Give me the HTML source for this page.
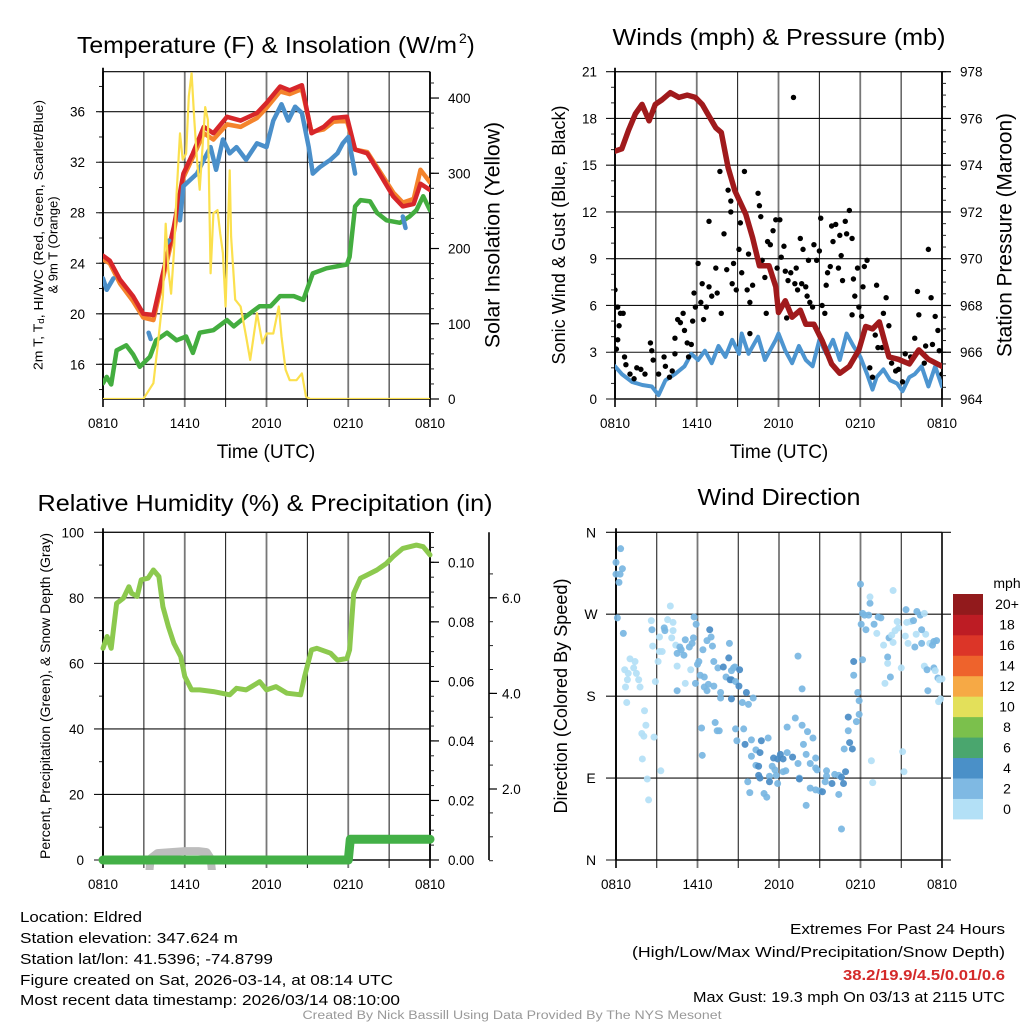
<!DOCTYPE html>
<html><head><meta charset="utf-8"><title>Eldred Meteogram</title>
<style>
html,body{margin:0;padding:0;background:#fff;}
svg{display:block;font-family:"Liberation Sans",sans-serif;}
</style></head>
<body>
<svg id="fig" xmlns="http://www.w3.org/2000/svg" width="1024" height="1024" viewBox="0 0 1024 1024">
<rect x="0" y="0" width="1024" height="1024" fill="#fff"/>
<defs>
<clipPath id="c1"><rect x="103" y="71.7" width="327" height="327.3"/></clipPath>
<clipPath id="c2"><rect x="615" y="71.7" width="327" height="327.3"/></clipPath>
<clipPath id="c3"><rect x="95" y="525" width="345" height="345"/></clipPath>
<clipPath id="c4"><rect x="612" y="528" width="335" height="336"/></clipPath>
</defs>
<!-- titles -->
<text x="267" y="53" font-size="23" text-anchor="middle" textLength="380" lengthAdjust="spacingAndGlyphs">Temperature (F) &amp; Insolation (W/m</text>
<text x="459" y="43" font-size="14">2</text>
<text x="467" y="53" font-size="23">)</text>
<text x="779" y="45" font-size="23" text-anchor="middle" textLength="333" lengthAdjust="spacingAndGlyphs">Winds (mph) &amp; Pressure (mb)</text>
<text x="265" y="511" font-size="23" text-anchor="middle" textLength="455" lengthAdjust="spacingAndGlyphs">Relative Humidity (%) &amp; Precipitation (in)</text>
<text x="779" y="505" font-size="23" text-anchor="middle" textLength="163" lengthAdjust="spacingAndGlyphs">Wind Direction</text>
<!-- x axis titles -->
<text x="266" y="458" font-size="19" text-anchor="middle">Time (UTC)</text>
<text x="779" y="458" font-size="19" text-anchor="middle">Time (UTC)</text>
<!-- y axis titles -->
<text transform="translate(38,235) rotate(-90)" font-size="13" text-anchor="middle" dominant-baseline="central" textLength="270" lengthAdjust="spacingAndGlyphs">2m T, T<tspan font-size="9" dy="3">d</tspan><tspan dy="-3">, HI/WC (Red, Green, Scarlet/Blue)</tspan></text>
<text transform="translate(53,245) rotate(-90)" font-size="13" text-anchor="middle" dominant-baseline="central">&amp; 9m T (Orange)</text>
<text transform="translate(493,235) rotate(-90)" font-size="21" text-anchor="middle" dominant-baseline="central" textLength="226" lengthAdjust="spacingAndGlyphs">Solar Insolation (Yellow)</text>
<text transform="translate(559,235) rotate(-90)" font-size="18" text-anchor="middle" dominant-baseline="central" textLength="259" lengthAdjust="spacingAndGlyphs">Sonic Wind &amp; Gust (Blue, Black)</text>
<text transform="translate(1005,235) rotate(-90)" font-size="21" text-anchor="middle" dominant-baseline="central" textLength="244" lengthAdjust="spacingAndGlyphs">Station Pressure (Maroon)</text>
<text transform="translate(45,696) rotate(-90)" font-size="14" text-anchor="middle" dominant-baseline="central" textLength="326" lengthAdjust="spacingAndGlyphs">Percent, Precipitation (Green), &amp; Snow Depth (Gray)</text>
<text transform="translate(561,696) rotate(-90)" font-size="18" text-anchor="middle" dominant-baseline="central" textLength="235" lengthAdjust="spacingAndGlyphs">Direction (Colored By Speed)</text>
<!-- footer text -->
<g font-size="15">
<text x="20" y="922" textLength="122" lengthAdjust="spacingAndGlyphs">Location: Eldred</text>
<text x="20" y="943" textLength="218" lengthAdjust="spacingAndGlyphs">Station elevation: 347.624 m</text>
<text x="20" y="964" textLength="253" lengthAdjust="spacingAndGlyphs">Station lat/lon: 41.5396; -74.8799</text>
<text x="20" y="985" textLength="373" lengthAdjust="spacingAndGlyphs">Figure created on Sat, 2026-03-14, at 08:14 UTC</text>
<text x="20" y="1005" textLength="380" lengthAdjust="spacingAndGlyphs">Most recent data timestamp: 2026/03/14 08:10:00</text>
</g>
<g font-size="15" text-anchor="end">
<text x="1005" y="934" textLength="215" lengthAdjust="spacingAndGlyphs">Extremes For Past 24 Hours</text>
<text x="1005" y="957" textLength="373" lengthAdjust="spacingAndGlyphs">(High/Low/Max Wind/Precipitation/Snow Depth)</text>
<text x="1005" y="980" fill="#d42a2a" font-weight="bold" textLength="162" lengthAdjust="spacingAndGlyphs">38.2/19.9/4.5/0.01/0.6</text>
<text x="1005" y="1002" textLength="312" lengthAdjust="spacingAndGlyphs">Max Gust: 19.3 mph On 03/13 at 2115 UTC</text>
</g>
<text x="512" y="1019" font-size="11.5" fill="#999" text-anchor="middle" textLength="419" lengthAdjust="spacingAndGlyphs">Created By Nick Bassill Using Data Provided By The NYS Mesonet</text>
<g id="layer"></g>
</svg>
<script>
// ---------- data ----------
const xTickLabels = ['0810','1410','2010','0210','0810'];
const tempTicks = [16,20,24,28,32,36];
const solarTicks = [0,100,200,300,400];
const windTicks = [0,3,6,9,12,15,18,21];
const presTicks = [964,966,968,970,972,974,976,978];
const rhTicks = [0,20,40,60,80,100];
const precipTicks = [0,0.02,0.04,0.06,0.08,0.10];
const snowTicks = [2,4,6];
const dirTicks = [0,90,180,270,360];
const dirLabels = ['N','E','S','W','N'];
const speedBinLabels = ['0','2','4','6','8','10','12','14','16','18','20+'];

const tempTime = [0,0.5,1.25,2.2,2.96,3.7,4.4,5.2,5.9,6.6,7.4,8.1,9.1,10.1,11.3,12.0,13.0,13.7,14.6,15.3,16.2,16.9,17.9,18.5,19.4,20.3,21.3,22.0,22.8,23.3,24];
const tempRed = [24.6,24.2,22.7,21.4,20.0,19.9,23.2,26.9,31.1,32.7,34.8,34.3,35.6,35.3,35.9,36.7,38.0,37.7,38.1,34.3,34.8,35.5,35.6,33.0,32.7,31.1,29.3,28.5,28.7,30.3,29.8];
const tempOrange = [24.3,24.0,22.4,21.0,19.7,19.5,22.8,26.5,30.8,32.4,34.3,33.8,35.0,34.8,35.5,36.3,37.6,37.4,37.8,34.4,34.6,35.2,35.3,33.0,32.8,31.3,29.6,28.8,29.1,31.4,30.4];
const chillTime = [0,0.27,0.76,1,3.35,3.5,4,4.7,4.85,5,5.65,5.9,6.4,6.9,7.4,7.9,8.3,8.8,9.3,9.8,10.5,11.3,12.0,12.5,13.1,13.6,14.1,14.6,15.1,15.4,15.9,16.7,17.2,17.6,18.0,18.5,20,22.0,22.2];
const chillBlue = [22.8,21.9,22.8,null,18.5,18.0,null,25.6,25.8,null,27.4,30.1,30.6,31.1,32.2,33.2,31.4,33.8,32.7,33.2,32.2,33.5,33.2,35.3,36.6,35.3,36.4,35.9,33.2,31.1,31.6,32.2,32.7,33.5,34.0,31.1,null,27.7,26.8];
const dewTime = [0,0.27,0.6,1.0,1.7,2.2,2.7,3.45,3.9,4.7,5.4,6.1,6.6,7.1,8.1,9.1,9.6,10.5,11.5,12.3,13.0,14.0,14.7,15.4,16.4,17.9,18.1,18.5,18.9,19.6,20.1,20.8,21.8,22.5,23.0,23.5,24];
const dewGreen = [14.5,15.0,14.4,17.1,17.5,16.8,15.8,16.6,17.9,18.5,17.9,18.2,16.9,18.5,18.7,19.5,19.0,19.8,20.6,20.6,21.4,21.4,21.1,23.2,23.6,23.9,24.5,28.5,29.0,28.9,28.0,27.4,27.2,27.7,28.2,29.3,28.2];
const solarTime = [0,2.96,3.7,4.06,4.4,4.6,4.8,5.0,5.2,5.4,5.65,5.85,6.1,6.3,6.5,6.7,6.9,7.1,7.5,7.7,7.9,8.1,8.4,8.6,8.8,9.0,9.3,9.4,9.7,10.1,10.5,10.8,11.3,11.7,12.0,12.5,12.9,13.1,13.4,13.7,14.2,14.6,14.9,15.2,24];
const solarYellow = [0,0,21,78,136,233,171,140,194,273,353,318,326,402,433,371,318,278,388,371,167,247,251,220,194,123,304,216,132,123,83,52,114,74,87,87,123,83,39,25,25,34,3,0,0];

const presTime = [0,0.5,1.0,1.5,1.98,2.5,2.96,3.45,4.06,4.7,5.3,5.9,6.4,6.9,7.4,7.8,8.3,8.8,9.6,10.1,10.6,11.3,11.8,12.0,12.5,13.0,13.6,14.0,14.6,15.2,15.9,16.5,17.2,17.9,18.4,18.9,19.4,20.1,20.8,21.6,22.3,23.0,24];
const presMaroon = [974.6,974.7,975.5,976.2,976.6,975.9,976.6,976.8,977.1,976.9,977.0,976.9,976.6,976.1,975.6,975.4,973.9,972.9,971.9,970.9,969.7,969.7,968.8,967.7,968.2,967.5,967.8,967.2,967.2,966.5,965.5,965.1,965.4,966.1,967.1,967.0,967.3,965.8,965.7,965.5,966.1,965.7,965.4];
const windTime = [0,0.5,1.25,2.0,2.7,3.2,3.7,4.4,5.1,5.6,6.1,6.6,7.1,7.6,8.1,8.6,9.1,9.3,9.8,10.5,11.0,11.8,12.0,12.5,13.0,13.5,14.0,14.5,15.0,15.5,16.0,16.5,17.0,17.5,18.0,18.5,18.9,19.2,19.7,20.2,20.7,21.1,21.6,22.0,22.5,23.0,23.5,24];
const windBlue = [2.1,1.6,1.1,0.9,0.8,0.25,1.2,1.6,2.1,2.9,2.5,3.1,2.3,3.4,2.7,3.8,2.9,4.2,2.9,4.0,2.5,3.8,4.2,3.1,2.3,3.4,2.5,2.1,3.8,2.9,3.8,2.5,4.2,3.4,2.7,1.6,0.6,1.4,1.9,1.2,1.0,0.5,1.4,1.6,2.1,0.8,2.1,0.8];
const gustTime = [0,0.02,0.2,0.2,0.1,0.3,0.4,0.6,0.7,0.8,1.1,1.4,1.6,1.9,2.2,2.6,2.7,2.8,3.2,3.6,3.7,4.0,4.2,4.4,4.4,4.6,4.8,5.0,5.1,5.3,5.4,5.6,5.7,5.8,5.9,6.1,6.3,6.4,6.5,6.7,6.9,6.9,7.1,7.4,7.5,7.7,7.8,8.0,8.2,8.3,8.5,8.5,8.6,8.7,8.9,9.1,9.2,9.3,9.5,9.7,9.8,9.9,9.9,10.1,10.5,10.6,10.7,10.8,11.0,11.1,11.2,11.4,11.6,11.8,11.9,12.1,12.2,12.4,12.5,12.6,12.7,12.9,13.1,13.2,13.3,13.4,13.6,13.7,13.8,14.0,14.1,14.2,14.3,14.5,14.6,14.8,15.0,15.1,15.2,15.4,15.5,15.6,15.8,15.9,16.0,16.2,16.4,16.5,16.6,16.7,16.9,17.0,17.2,17.4,17.4,17.5,17.6,17.8,17.9,18.1,18.2,18.3,18.5,18.7,18.9,19.1,19.2,19.3,19.6,19.7,19.9,20.1,20.3,20.6,20.8,21.1,21.3,21.7,22.0,22.2,22.3,22.7,22.8,23.0,23.2,23.3,23.5,23.7,23.8,24];
const gustBlack = [7.0,5.9,5.9,3.8,3.2,4.7,5.5,5.5,2.7,2.2,1.6,1.3,2.0,1.9,1.6,3.6,3.1,2.5,1.6,2.7,2.1,1.4,1.8,2.9,3.9,5.1,4.9,5.5,4.4,3.6,2.7,3.5,5.0,6.8,5.9,8.7,6.2,7.4,5.1,5.9,7.2,11.4,6.6,8.4,6.8,14.6,5.5,10.6,8.3,13.4,12.7,12.0,7.4,8.7,7.0,9.6,11.3,8.1,14.6,7.0,9.3,6.2,4.2,7.3,13.2,12.4,11.7,8.9,7.8,5.5,10.1,9.9,10.8,11.5,8.4,11.5,9.1,9.8,8.2,5.2,7.6,8.1,19.35,7.4,8.4,7.0,10.3,7.4,9.6,7.2,6.6,8.9,6.2,5.9,9.9,8.9,9.5,11.6,6.0,5.5,7.3,8.1,8.5,11.1,10.1,11.2,8.4,10.5,9.2,7.6,11.4,10.6,12.1,5.4,10.3,7.7,6.6,8.4,5.9,5.3,7.2,8.5,8.9,2.0,1.4,4.1,7.3,3.3,3.3,5.5,6.5,4.7,2.3,1.8,1.9,1.1,2.9,2.7,3.9,6.9,5.4,2.3,3.4,9.6,6.5,3.5,5.3,4.4,3.1,1.6];

const rhTime = [0,0.3,0.6,1.0,1.5,1.9,2.1,2.5,2.8,3.3,3.7,4.1,4.4,4.8,5.2,5.7,6.0,6.5,7.1,8.1,9.3,9.8,10.5,11.5,12.0,12.7,13.5,14.5,14.8,15.3,15.7,16.7,17.2,17.9,18.1,18.4,18.9,19.4,20.1,20.8,21.3,22.0,23.0,23.5,24];
const rhGreen = [64.6,68.2,64.6,78.3,79.9,83.4,81.4,80.4,85.5,86.0,88.5,86.5,77.3,71.2,66.1,62.1,56.0,51.9,51.9,51.4,50.4,52.4,51.9,54.4,51.9,52.9,50.9,50.4,56.0,64.1,64.6,63.1,61.0,61.5,64.1,81.4,86.0,87.0,88.5,90.5,92.6,95.1,96.1,95.6,93.1];
const precipTime = [0,18.0,18.15,24];
const precipIn = [0,0,0.007,0.007];
const snowTime = [0,3.3,3.5,4.0,5,6,7,7.6,7.9,8.1,24];
const snowIn = [0,0,0.55,0.66,0.68,0.7,0.7,0.68,0.55,0,0];

const dirTime = [0,0.34,0,0.3,0.47,0.22,0.1,0.54,1.03,1.4,0.64,0.9,1.3,1.5,1.67,1.77,0.84,0.7,0.79,2.1,2.2,1.9,2.05,1.94,2.3,2.4,2.8,2.9,3.3,2.6,2.65,2.7,3.1,3.2,3.4,3.2,3.6,3.55,3.8,4.0,4.2,4.2,4.1,4.4,4.5,4.7,4.8,5.0,5.1,5.4,5.6,5.7,4.5,4.5,5.1,5.5,5.75,5.9,6.1,6.0,6.2,6.5,6.4,5.85,6.5,6.7,6.8,6.9,7.0,6.7,7.1,7.2,7.2,7.5,7.7,7.7,7.9,8.1,8.3,8.35,8.5,8.65,8.75,9.1,8.4,8.5,8.8,9.05,8.5,9.3,9.6,9.75,10.1,6.3,6.35,7.3,7.45,7.6,8.8,9.4,8.9,9.5,9.97,10.3,10.7,11.2,10.6,9.97,10.3,10.5,10.5,10.6,11.3,11.6,11.5,11.7,11.9,12.1,12.3,12.6,12.6,13.0,13.4,13.2,13.7,14.1,13.8,14.0,14.5,14.3,14.7,14.7,14.8,12.5,12.3,11.8,11.9,11.3,9.7,9.85,10.9,11.1,13.5,13.5,14.3,14.7,15.0,15.2,14.0,13.4,13.7,15.5,15.5,15.4,15.9,16.1,16.4,16.6,16.75,16.9,16.4,16.6,16.8,17.2,17.4,17.1,17.1,17.7,17.9,17.9,17.8,17.5,17.5,18.15,18.0,18.05,18.4,18.15,18.3,18.6,18.7,18.7,18.8,18.9,19.2,19.3,19.5,19.0,19.7,19.8,20.0,20.0,20.1,20.2,20.4,20.4,20.3,20.7,20.8,20.55,21.0,21.1,21.2,21.3,21.4,21.35,21.5,21.7,21.9,22.0,22.1,22.15,22.4,22.5,22.7,22.8,22.5,22.7,22.96,22.9,23.1,23.3,23.4,23.6,23.4,23.5,23.7,23.8,24,23.75,23.9];
const dirDeg = [327,342,314,314,320,305,266,249,221,218,209,205,211,205,198,190,198,190,173,164,148,139,136,111,89,66,135,196,98,263,253,235,218,229,229,245,252,255,264,279,252,261,244,236,227,234,231,225,242,234,238,244,213,186,194,209,267,259,218,215,203,201,231,194,190,186,193,253,245,241,235,191,218,211,184,178,212,201,222,238,208,211,212,209,198,198,196,191,177,173,184,171,178,145,115,151,142,142,144,144,131,127,132,121,131,134,118,114,104,103,93,90,92,112,103,99,111,116,111,118,146,113,106,156,148,141,127,116,134,106,112,101,99,98,97,93,84,86,86,74,73,69,90,89,79,77,76,75,60,224,188,98,92,86,84,94,93,91,84,97,72,34,122,129,122,142,157,152,160,175,184,203,218,220,303,259,253,271,269,269,282,289,109,85,249,267,266,259,236,194,223,216,244,201,296,239,247,262,255,252,211,119,97,246,261,275,238,262,263,234,248,273,269,238,271,248,253,213,186,209,238,236,240,241,211,208,200,198,199,174,177];
const dirSpeed = [2,2,2,2,2,2,2,2,0,0,0,0,0,0,0,0,0,0,0,0,0,0,0,0,0,0,0,0,0,0,2,0,0,0,0,0,2,2,0,0,0,0,0,0,2,2,2,2,2,2,2,2,0,2,0,0,2,2,2,2,2,2,2,2,2,2,2,4,2,2,2,2,2,2,2,2,4,2,4,2,2,2,2,4,4,4,2,4,4,2,4,2,2,2,2,2,2,2,2,2,2,4,2,2,4,2,4,2,2,4,4,4,2,4,2,2,4,4,4,2,2,4,2,2,2,2,2,2,2,2,2,2,2,2,2,2,2,4,2,2,2,2,2,4,2,2,2,4,2,2,2,2,2,2,4,2,2,4,4,4,2,2,2,4,4,2,4,2,2,2,2,2,4,2,2,2,2,2,2,2,2,0,0,0,0,2,2,2,0,0,2,0,2,2,0,0,0,0,0,0,0,0,0,0,0,2,0,0,2,2,0,2,2,2,0,0,2,0,2,2,0,2,2,2,2,0,2,0,0,0,0,0];

// ---------- helpers ----------
const NS = 'http://www.w3.org/2000/svg';
const layer = document.getElementById('layer');
function mk(tag, attrs, parent){ const e=document.createElementNS(NS,tag); for(const k in attrs) e.setAttribute(k,attrs[k]); (parent||layer).appendChild(e); return e; }
function lin(d0,d1,r0,r1){ return v => r0 + (v-d0)/(d1-d0)*(r1-r0); }
function pathD(ts, vs, sx, sy){ let d='', pen=false; for(let i=0;i<ts.length;i++){ const v=vs[i]; if(v===null||v===undefined){pen=false;continue;} d += (pen?'L':'M') + sx(ts[i]).toFixed(1) + ',' + sy(v).toFixed(1); pen=true; } return d; }
const speedColors = {0:'#b3e0f6',2:'#78b6e2',4:'#4a8cc6'};
const barColors = ['#b3e0f6','#7fb9e3','#4a90c8','#4aa66e','#7bc04c','#e3e05a','#f6a945','#ee632c','#dc3528','#bd1c24','#921a1c'];

const panels = [
 {id:'temperature', x0:103, x1:430, y0:71.7, y1:399, clip:'c1'},
 {id:'winds', x0:615, x1:942, y0:71.7, y1:399, clip:'c2'},
 {id:'humidity', x0:103, x1:430, y0:532.3, y1:860, clip:'c3'},
 {id:'direction', x0:616, x1:942, y0:532.3, y1:860, clip:'c4'}
];
panels.forEach(p => { p.sx = lin(0,24,p.x0,p.x1); });

// ---------- grids and x axes ----------
panels.forEach(p => {
  const g = mk('g',{});
  
  
  for(let k=0;k<=8;k++){
    const x = p.x0 + k*(p.x1-p.x0)/8;
    const edge = (k===0||k===8);
    const ln = mk('line',{x1:x,x2:x,y1:p.y0,y2:p.y1+8,stroke: edge?'#000':(k%2===0?'#777':'#111'),'stroke-width': edge?1.6:(k%2===0?1.8:1)}, g);
    
    
  }
  const top = mk('line',{x1:p.x0,x2:p.x1,y1:p.y0,y2:p.y0,stroke:'#000','stroke-width':1.2}, g);
  
  
  const bot = mk('line',{x1:p.x0,x2:p.x1,y1:p.y1,y2:p.y1,stroke:'#000','stroke-width':1.6}, g);
  
  
  xTickLabels.forEach((lab,i) => {
    const t = mk('text',{x:p.sx(i*6),y:p.y1+29,'font-size':13.5,'text-anchor':'middle'}, g);
    t.textContent = lab;
    
    
  });
});

function hGrid(p, ticks, sy, x0ext, x1ext, labelFmt, labelX, name){
  ticks.forEach(v => {
    const y = sy(v);
    const ln = mk('line',{x1:x0ext,x2:x1ext,y1:y,y2:y,stroke:'#111','stroke-width':1.1});
    
    
    const t = mk('text',{x:labelX,y:y+5,'font-size':13.5,'text-anchor':'end'});
    t.textContent = labelFmt(v);
    
    
  });
}
function minorTicks(from,to,step,sy,x,len,name){
  for(let v=from; v<=to+1e-9; v+=step){
    const y=sy(v);
    const ln = mk('line',{x1:x,x2:x+len,y1:y,y2:y,stroke:'#222','stroke-width':1});
    
    
  }
}
function rightAxis(p, ticks, sy, fmt, minorFrom, minorTo, minorStep, axisX, labelX, name){
  const ax = mk('line',{x1:axisX,x2:axisX,y1:p.y0,y2:p.y1,stroke:'#000','stroke-width':1.6});
  
  
  minorTicks(minorFrom,minorTo,minorStep,sy,axisX,4,name);
  ticks.forEach(v => {
    const y = sy(v);
    const ln = mk('line',{x1:axisX,x2:axisX+9,y1:y,y2:y,stroke:'#000','stroke-width':1.2});
    
    
    const t = mk('text',{x:labelX,y:y+5,'font-size':13.5});
    t.textContent = fmt(v);
    
    
  });
}
function leftAxisLine(p,name){
  const ax = mk('line',{x1:p.x0,x2:p.x0,y1:p.y0-4,y2:p.y1,stroke:'#000','stroke-width':1.8});
  
  
}

// ---------- Panel 1: temperature ----------
const P1 = panels[0];
const yTemp = lin(13.25,39.17,P1.y1,P1.y0);
const ySolar = lin(0,435,P1.y1,P1.y0);
hGrid(P1, tempTicks, yTemp, 96, P1.x1, v=>String(v), 85, 'temperature-y');
minorTicks(14,38,2,yTemp,99,4,'temperature-y');
leftAxisLine(P1,'temperature-y');
rightAxis(P1, solarTicks, ySolar, v=>String(v), 0, 420, 20, P1.x1, 448, 'solar-y');
const g1 = mk('g',{'clip-path':'url(#c1)',fill:'none','stroke-linejoin':'round','stroke-linecap':'round'});


const dewLine = mk('path',{d:pathD(dewTime,dewGreen,P1.sx,yTemp),stroke:'#43ad3f','stroke-width':4.5}, g1);


const orangeLine = mk('path',{d:pathD(tempTime,tempOrange,P1.sx,yTemp),stroke:'#f4832c','stroke-width':4.5}, g1);


const redLine = mk('path',{d:pathD(tempTime,tempRed,P1.sx,yTemp),stroke:'#d7262a','stroke-width':4.5}, g1);


const blueLine = mk('path',{d:pathD(chillTime,chillBlue,P1.sx,yTemp),stroke:'#4a8fca','stroke-width':4.5}, g1);


const solarLine = mk('path',{d:pathD(solarTime,solarYellow,P1.sx,ySolar),stroke:'#fbe04e','stroke-width':2.2}, g1);



// ---------- Panel 2: winds ----------
const P2 = panels[1];
const yWind = lin(0,21,P2.y1,P2.y0);
const yPres = lin(964,978,P2.y1,P2.y0);
hGrid(P2, windTicks, yWind, 606, P2.x1, v=>String(v), 597, 'wind-y');
minorTicks(1,20,1,yWind,611,4,'wind-y');
leftAxisLine(P2,'wind-y');
rightAxis(P2, presTicks, yPres, v=>String(v), 964, 978, 0.5, P2.x1, 960, 'pressure-y');
const g2 = mk('g',{'clip-path':'url(#c2)','stroke-linejoin':'round','stroke-linecap':'round'});


const windLine = mk('path',{d:pathD(windTime,windBlue,P2.sx,yWind),stroke:'#4d95d0','stroke-width':4,fill:'none'}, g2);


gustTime.forEach((t,i) => {
  const c = mk('circle',{cx:P2.sx(t),cy:yWind(gustBlack[i]),r:2.7,fill:'#000'}, g2);
  
  
});
const presLine = mk('path',{d:pathD(presTime,presMaroon,P2.sx,yPres),stroke:'#a01a1c','stroke-width':5.5,fill:'none'}, g2);



// ---------- Panel 3: humidity ----------
const P3 = panels[2];
const yRH = lin(0,100,P3.y1,P3.y0);
const yPrecip = lin(0,0.1,P3.y1,562.3);
const ySnow = lin(0,2,884.6,789);
hGrid(P3, rhTicks, yRH, 94, P3.x1, v=>String(v), 84, 'humidity-y');
minorTicks(10,90,20,yRH,99,4,'humidity-y');
leftAxisLine(P3,'humidity-y');
rightAxis(P3, precipTicks, yPrecip, v=>v.toFixed(2), 0, 0.11, 0.005, P3.x1, 448, 'precip-y');
const snowAx = mk('line',{x1:489,x2:489,y1:P3.y0,y2:P3.y1,stroke:'#000','stroke-width':1.6});


minorTicks(0.5,6.8,0.5,ySnow,489,4,'snow-y');
snowTicks.forEach(v => {
  const y = ySnow(v);
  const ln = mk('line',{x1:489,x2:497,y1:y,y2:y,stroke:'#000','stroke-width':1.2});
  
  
  const t = mk('text',{x:502,y:y+5,'font-size':13.5});
  t.textContent = v.toFixed(1);
  
  
});
const g3 = mk('g',{'clip-path':'url(#c3)',fill:'none','stroke-linejoin':'round','stroke-linecap':'round'});


const rhLine = mk('path',{d:pathD(rhTime,rhGreen,P3.sx,yRH),stroke:'#8cc94e','stroke-width':5}, g3);


const snowLine = mk('path',{d:pathD(snowTime,snowIn,P3.sx,ySnow),stroke:'#bdbdbd','stroke-width':8}, g3);


const precipLine = mk('path',{d:pathD(precipTime,precipIn,P3.sx,yPrecip),stroke:'#43b047','stroke-width':9}, g3);



// ---------- Panel 4: direction ----------
const P4 = panels[3];
const yDir = lin(0,360,P4.y1,P4.y0);
dirTicks.forEach((v,i) => {
  const y = yDir(v);
  const ln = mk('line',{x1:606,x2:951,y1:y,y2:y,stroke:'#111','stroke-width':1.1});
  
  
  const t = mk('text',{x:591,y:y+5,'font-size':14,'text-anchor':'middle'});
  t.textContent = dirLabels[i];
  
  
});
leftAxisLine(P4,'direction-y');
const g4 = mk('g',{'clip-path':'url(#c4)'});


dirTime.forEach((t,i) => {
  const c = mk('circle',{cx:P4.sx(t),cy:yDir(dirDeg[i]),r:3.5,fill:speedColors[dirSpeed[i]],'fill-opacity':0.92}, g4);
  
  
});
// colorbar
const cbTop = 594, cbBot = 819, cbH = (cbBot-cbTop)/speedBinLabels.length;
const mph = mk('text',{x:1007,y:588,'font-size':14,'text-anchor':'middle'});
mph.textContent = 'mph';


speedBinLabels.forEach((lab,i) => {
  const y = cbBot - (i+1)*cbH;
  const r = mk('rect',{x:953,y:y,width:30,height:cbH+0.4,fill:barColors[i]});
  
  
  const t = mk('text',{x:1007,y:y+cbH/2+5,'font-size':14,'text-anchor':'middle'});
  t.textContent = lab;
  
  
});
</script>
</body></html>
